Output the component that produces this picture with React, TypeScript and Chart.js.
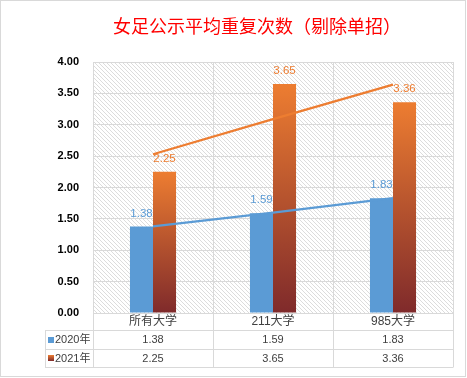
import React, { useEffect, useRef } from 'react';
import { Chart, registerables } from 'chart.js';
Chart.register(...registerables);

const title = '女足公示平均重复次数（剔除单招）';
const categories = ['所有大学', '211大学', '985大学'];
const seriesNames = ['2020年', '2021年'];
const values2020 = [1.38, 1.59, 1.83];
const values2021 = [2.25, 3.65, 3.36];
const trend2020 = [1.38, 1.6, 1.83];
const trend2021 = [2.53, 3.09, 3.64];
const yMin = 0;
const yMax = 4;
const yStep = 0.5;

const BLUE = '#5B9BD5';
const ORANGE_TOP = '#ED7D31';
const ORANGE_BOTTOM = '#7F2A2B';
const GRID = '#D9D9D9';
const TEXT = '#404040';
const LATIN = "'Liberation Sans', 'Noto Sans CJK SC', sans-serif";

function makeGradient(ctx: CanvasRenderingContext2D, top: number, bottom: number) {
  const g = ctx.createLinearGradient(0, top, 0, bottom);
  g.addColorStop(0, ORANGE_TOP);
  g.addColorStop(1, ORANGE_BOTTOM);
  return g;
}

const backgroundPlugin = {
  id: 'bgHatch',
  beforeDraw(chart: any) {
    const { ctx, chartArea, width, height } = chart;
    ctx.save();
    ctx.fillStyle = '#FFFFFF';
    ctx.fillRect(0, 0, width, height);
    ctx.strokeStyle = GRID;
    ctx.lineWidth = 1;
    ctx.strokeRect(0.5, 0.5, width - 2, height - 2);
    if (chartArea) {
      const tile = document.createElement('canvas');
      tile.width = 4;
      tile.height = 4;
      const tctx = tile.getContext('2d')!;
      tctx.fillStyle = '#FFFFFF';
      tctx.fillRect(0, 0, 4, 4);
      tctx.fillStyle = '#DCDCDC';
      for (let i = 0; i < 4; i++) tctx.fillRect(i, i, 1, 1);
      const pat = ctx.createPattern(tile, 'repeat');
      if (pat) {
        ctx.fillStyle = pat;
        ctx.fillRect(chartArea.left, chartArea.top, chartArea.right - chartArea.left, chartArea.bottom - chartArea.top);
      }
    }
    ctx.restore();
  },
};

const labelsPlugin = {
  id: 'valueLabels',
  afterDatasetsDraw(chart: any) {
    const { ctx } = chart;
    ctx.save();
    ctx.font = `11.5px ${LATIN}`;
    ctx.textAlign = 'center';
    ctx.textBaseline = 'middle';
    [0, 1].forEach((di) => {
      const meta = chart.getDatasetMeta(di);
      const vals = di === 0 ? values2020 : values2021;
      ctx.fillStyle = di === 0 ? BLUE : ORANGE_TOP;
      meta.data.forEach((el: any, i: number) => {
        ctx.fillText(vals[i].toFixed(2), el.x, el.y - 13);
      });
    });
    ctx.restore();
  },
};

const tablePlugin = {
  id: 'dataTable',
  afterDraw(chart: any) {
    const { ctx, chartArea } = chart;
    const xs = chart.scales.x;
    const left = chartArea.left;
    const right = chartArea.right;
    const y0 = chartArea.bottom;
    const r1 = y0 + 17;
    const r2 = r1 + 19;
    const r3 = r2 + 18;
    const legendLeft = left - 48;
    const n = categories.length;
    const colW = (right - left) / n;
    ctx.save();
    ctx.strokeStyle = GRID;
    ctx.lineWidth = 1;
    ctx.beginPath();
    [r1, r2, r3].forEach((y) => {
      ctx.moveTo(legendLeft, Math.round(y) + 0.5);
      ctx.lineTo(right, Math.round(y) + 0.5);
    });
    for (let i = 0; i <= n; i++) {
      const x = Math.round(left + colW * i) + 0.5;
      ctx.moveTo(x, y0);
      ctx.lineTo(x, r3 + 0.5);
    }
    ctx.moveTo(legendLeft + 0.5, r1);
    ctx.lineTo(legendLeft + 0.5, r3 + 0.5);
    ctx.stroke();

    ctx.fillStyle = TEXT;
    ctx.textAlign = 'center';
    ctx.textBaseline = 'middle';
    categories.forEach((c, i) => {
      const cx = xs.getPixelForTick(i);
      ctx.font = `12px ${LATIN}`;
      ctx.fillText(c, cx, (y0 + r1) / 2 + 0.5);
      ctx.font = `11px ${LATIN}`;
      ctx.fillText(values2020[i].toFixed(2), cx, (r1 + r2) / 2 + 0.5);
      ctx.fillText(values2021[i].toFixed(2), cx, (r2 + r3) / 2 + 0.5);
    });

    const keyX = legendLeft + 3;
    const rowsY = [(r1 + r2) / 2, (r2 + r3) / 2];
    rowsY.forEach((ry, i) => {
      const ky = Math.round(ry) - 3;
      ctx.fillStyle = i === 0 ? BLUE : makeGradient(ctx, ky, ky + 6);
      ctx.fillRect(keyX, ky, 6, 6);
      ctx.fillStyle = TEXT;
      ctx.textAlign = 'left';
      ctx.font = `11px ${LATIN}`;
      ctx.fillText(seriesNames[i], keyX + 7, ry + 0.5);
    });

    ctx.fillStyle = '#FF0000';
    ctx.textAlign = 'center';
    ctx.textBaseline = 'middle';
    ctx.font = "18px 'Noto Sans CJK SC', serif";
    ctx.fillText(title, 257, 26);
    ctx.restore();
  },
};

export default function App() {
  const ref = useRef<HTMLCanvasElement | null>(null);
  useEffect(() => {
    document.body.style.margin = '0';
    const canvas = ref.current!;
    const chart = new Chart(canvas, {
      type: 'bar',
      data: {
        labels: categories,
        datasets: [
          {
            type: 'bar',
            label: seriesNames[0],
            data: values2020,
            backgroundColor: BLUE,
            order: 2,
            categoryPercentage: 0.384,
            barPercentage: 1,
          },
          {
            type: 'bar',
            label: seriesNames[1],
            data: values2021,
            backgroundColor: (c: any) => {
              const ch = c.chart;
              const ys = ch.scales?.y;
              if (!ys || c.dataIndex === undefined) return ORANGE_TOP;
              const v = values2021[c.dataIndex];
              const top = ys.getPixelForValue(v);
              const bottom = ys.getPixelForValue(0);
              if (!isFinite(top) || !isFinite(bottom) || top === bottom) return ORANGE_TOP;
              return makeGradient(ch.ctx, top, bottom);
            },
            order: 2,
            categoryPercentage: 0.384,
            barPercentage: 1,
          },
          {
            type: 'line',
            label: 'trend2020',
            data: trend2020,
            borderColor: BLUE,
            borderWidth: 2.25,
            pointRadius: 0,
            fill: false,
            order: 0,
          } as any,
          {
            type: 'line',
            label: 'trend2021',
            data: trend2021,
            borderColor: ORANGE_TOP,
            borderWidth: 2.25,
            pointRadius: 0,
            fill: false,
            order: 0,
          } as any,
        ],
      },
      options: {
        responsive: false,
        animation: false,
        devicePixelRatio: 1,
        layout: { padding: { top: 62, left: 10, right: 14, bottom: 65 } },
        plugins: {
          legend: { display: false },
          title: { display: false },
          tooltip: { enabled: false },
        },
        scales: {
          x: {
            grid: { color: GRID, offset: true, drawTicks: false },
            border: { color: GRID },
            ticks: { display: false },
            afterFit: (s: any) => {
              s.height = 0;
            },
          },
          y: {
            min: yMin,
            max: yMax,
            ticks: {
              stepSize: yStep,
              padding: 14,
              color: '#000000',
              font: { family: 'Liberation Sans', size: 11, weight: 'bold' },
              callback: (v: any) => Number(v).toFixed(2),
            },
            grid: { color: GRID, drawTicks: false },
            border: { color: GRID },
            afterFit: (s: any) => {
              s.width = 83;
            },
          },
        },
      },
      plugins: [backgroundPlugin, labelsPlugin, tablePlugin],
    } as any);
    return () => chart.destroy();
  }, []);
  return (
    <div style={{ width: 467, height: 378 }}>
      <canvas ref={ref} width={467} height={378} style={{ display: 'block' }} />
    </div>
  );
}
